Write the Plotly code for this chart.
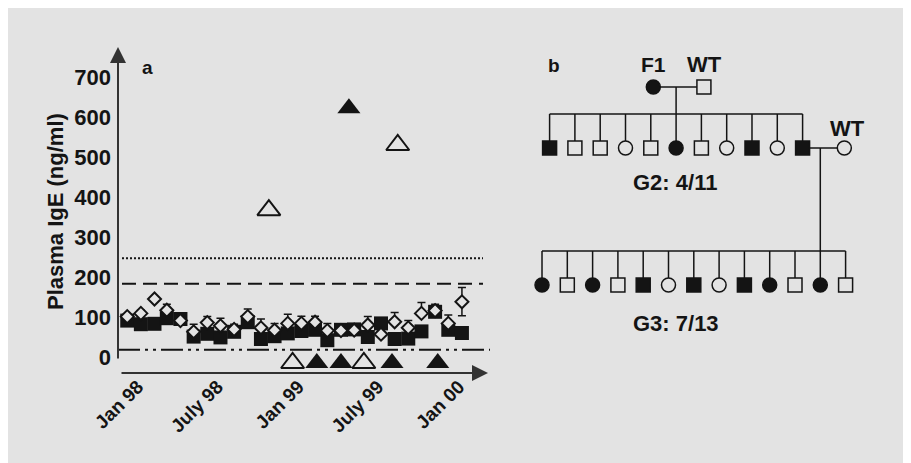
import plotly.graph_objects as go

FIG_W, FIG_H = 930, 480   # a bit larger than the window so the grey reaches the edges
OFF = 8  # page margin seen at the top-left of the reference
BG = '#e3e3e3'
INK = '#141414'
FONT = 'Liberation Sans, Arial, sans-serif'

# ---------------- Panel a data ----------------
months = ['1997-12-01', '1998-01-01', '1998-02-01', '1998-03-01', '1998-04-01',
          '1998-05-01', '1998-06-01', '1998-07-01', '1998-08-01', '1998-09-01',
          '1998-10-01', '1998-11-01', '1998-12-01', '1999-01-01', '1999-02-01',
          '1999-03-01', '1999-04-01', '1999-05-01', '1999-06-01', '1999-07-01',
          '1999-08-01', '1999-09-01', '1999-10-01', '1999-11-01', '1999-12-01',
          '2000-01-01']
square_vals = [91, 82, 83, 97, 95, 51, 58, 49, 63, 87, 45, 52, 59,
               65, 68, 42, 68, 69, 50, 84, 45, 46, 64, 113, 68, 60]
diamond_vals = [101, 109, 145, 117, 91, 63, 86, 78, 69, 101, 73, 67, 84,
                84, 87, 66, 66, 67, 80, 57, 88, 73, 109, 116, 84, 138]
diamond_err_plus = [0, 8, 0, 15, 0, 19, 15, 19, 13, 19, 22, 17, 23,
                    18, 15, 18, 0, 0, 21, 0, 23, 18, 27, 16, 21, 36]
diamond_err_minus = [0, 0, 0, 0, 0, 0, 0, 0, 0, 0, 0, 0, 0,
                     0, 0, 0, 0, 0, 0, 0, 0, 0, 0, 0, 0, 35]

open_tri_dates = ['1998-10-19', '1998-12-12', '1999-05-23', '1999-08-08']
open_tri_vals = [367, -15, -15, 530]
filled_tri_dates = ['1999-02-05', '1999-04-01', '1999-04-19', '1999-07-26', '1999-11-07']
filled_tri_vals = [-15, -15, 622, -15, -15]

thr_dotted = 247
thr_dashed = 183
thr_dashdot = 18

x_tickvals = ['1998-01-01', '1998-07-01', '1999-01-01', '1999-07-01', '2000-01-01']
x_ticktext = ['Jan 98', 'July 98', 'Jan 99', 'July 99', 'Jan 00']
y_tickvals = [0, 100, 200, 300, 400, 500, 600, 700]

# ---------------- Panel b data (pedigree) ----------------
g2_sex = ['M', 'M', 'M', 'F', 'M', 'F', 'M', 'F', 'M', 'F', 'M']
g2_aff = [1, 0, 0, 0, 0, 1, 0, 0, 1, 0, 1]
g3_sex = ['F', 'M', 'F', 'M', 'M', 'F', 'M', 'F', 'M', 'F', 'M', 'F', 'M']
g3_aff = [1, 0, 1, 0, 1, 0, 1, 0, 1, 1, 0, 1, 0]
g2_label = 'G2: 4/11'
g3_label = 'G3: 7/13'

# layout helpers (screen pixel -> paper fraction)
def PX(x):
    return (x - OFF) / FIG_W

def PY(y):
    return 1 - (y - OFF) / FIG_H

# pedigree geometry (slot units horizontally, pixel rows vertically)
g2_offset = 0.3
g2_slots = [g2_offset + i for i in range(len(g2_sex))]
g3_slots = [float(i) for i in range(len(g3_sex))]
f1_slot, wt1_slot = 4.4, 6.4
wt2_slot = 11.95
g2_descent_slot = g2_slots[5]
g3_descent_slot = g3_slots[11]
row_g1, row_sib2, row_g2, row_sib3, row_g3 = 87, 114, 148, 251, 285

fig = go.Figure()

# ---- panel a traces ----
fig.add_trace(go.Scatter(
    x=months, y=square_vals, mode='markers',
    marker=dict(symbol='square', size=14, color=INK, line=dict(width=0)),
    showlegend=False, hoverinfo='skip'))
fig.add_trace(go.Scatter(
    x=months, y=diamond_vals, mode='markers',
    marker=dict(symbol='diamond', size=10, color=BG, line=dict(width=2, color=INK)),
    error_y=dict(type='data', symmetric=False, array=diamond_err_plus,
                 arrayminus=diamond_err_minus, color=INK, thickness=1.5, width=4),
    showlegend=False, hoverinfo='skip'))
fig.add_trace(go.Scatter(
    x=open_tri_dates, y=open_tri_vals, mode='markers',
    marker=dict(symbol='triangle-up', size=20, color=BG, line=dict(width=2, color=INK)),
    showlegend=False, hoverinfo='skip'))
fig.add_trace(go.Scatter(
    x=filled_tri_dates, y=filled_tri_vals, mode='markers',
    marker=dict(symbol='triangle-up', size=20, color=INK, line=dict(width=0)),
    showlegend=False, hoverinfo='skip'))

# ---- panel b traces ----
lx, ly = [], []
def seg(x0, y0, x1, y1):
    lx.extend([x0, x1, None])
    ly.extend([y0, y1, None])

seg(f1_slot, row_g1, wt1_slot, row_g1)
seg(g2_descent_slot, row_g1, g2_descent_slot, row_sib2)
seg(g2_slots[0], row_sib2, g2_slots[-1], row_sib2)
for s in g2_slots:
    seg(s, row_sib2, s, row_g2)
seg(g2_slots[-1], row_g2, wt2_slot, row_g2)
seg(g3_descent_slot, row_g2, g3_descent_slot, row_sib3)
seg(g3_slots[0], row_sib3, g3_slots[-1], row_sib3)
for s in g3_slots:
    seg(s, row_sib3, s, row_g3)

fig.add_trace(go.Scatter(x=lx, y=ly, mode='lines', line=dict(color=INK, width=1.5),
                         xaxis='x2', yaxis='y2', showlegend=False, hoverinfo='skip'))

def members(xs, ys, sexes, affs):
    return go.Scatter(
        x=xs, y=ys, mode='markers',
        marker=dict(symbol=['square' if s == 'M' else 'circle' for s in sexes],
                    size=14,
                    color=[INK if a else BG for a in affs],
                    line=dict(width=1.5, color=INK)),
        xaxis='x2', yaxis='y2', showlegend=False, hoverinfo='skip')

fig.add_trace(members([f1_slot, wt1_slot], [row_g1, row_g1], ['F', 'M'], [1, 0]))
fig.add_trace(members(g2_slots + [wt2_slot], [row_g2] * (len(g2_slots) + 1),
                      g2_sex + ['F'], g2_aff + [0]))
fig.add_trace(members(g3_slots, [row_g3] * len(g3_slots), g3_sex, g3_aff))

# ---- shapes ----
shapes = [
    dict(type='line', xref='paper', yref='y', x0=PX(122), x1=PX(483),
         y0=thr_dotted, y1=thr_dotted, line=dict(color=INK, width=2, dash='2px,2px'), layer='below'),
    dict(type='line', xref='paper', yref='y', x0=PX(122), x1=PX(483),
         y0=thr_dashed, y1=thr_dashed, line=dict(color=INK, width=2, dash='14px,7px'), layer='below'),
    dict(type='line', xref='paper', yref='y', x0=PX(118), x1=PX(490),
         y0=thr_dashdot, y1=thr_dashdot,
         line=dict(color=INK, width=2, dash='22px,5px,3px,5px,3px,5px'), layer='below'),
]

def txt(x, y, s, size):
    return dict(x=PX(x), y=PY(y), xref='paper', yref='paper', text='<b>' + s + '</b>',
                showarrow=False, xanchor='center', yanchor='middle',
                font=dict(family=FONT, size=size, color=INK))

annotations = [
    # axis arrows
    dict(x=PX(118), y=PY(47), xref='paper', yref='paper', ax=0, ay=313, text='',
         showarrow=True, arrowhead=2, arrowsize=1.6, arrowwidth=2, arrowcolor='#333333'),
    dict(x=PX(488), y=PY(373), xref='paper', yref='paper', ax=-368, ay=0, text='',
         showarrow=True, arrowhead=2, arrowsize=1.6, arrowwidth=2, arrowcolor='#333333'),
    dict(x=PX(55), y=PY(212), xref='paper', yref='paper', text='<b>Plasma IgE (ng/ml)</b>',
         textangle=-90, showarrow=False, xanchor='center', yanchor='middle',
         font=dict(family=FONT, size=22, color=INK)),
    txt(147, 67, 'a', 19),
    txt(554, 65, 'b', 19),
    txt(653, 64, 'F1', 21),
    txt(704, 64, 'WT', 22),
    txt(847, 128, 'WT', 22),
    txt(675, 183, g2_label, 22),
    txt(676, 323, g3_label, 22),
]

fig.update_layout(
    width=FIG_W, height=FIG_H, margin=dict(l=0, r=0, t=0, b=0, autoexpand=False),
    paper_bgcolor=BG, plot_bgcolor='rgba(0,0,0,0)',
    font=dict(family=FONT, color=INK),
    shapes=shapes, annotations=annotations,
    xaxis=dict(domain=[PX(118), PX(487)], type='date',
               range=['1997-11-10', '2000-02-27'], automargin=False,
               tickvals=x_tickvals, ticktext=x_ticktext, tickangle=-45,
               ticklabelstandoff=-2, ticklabelshift=-3,
               tickfont=dict(family=FONT, size=19, color=INK, weight='bold'),
               showgrid=False, zeroline=False, showline=False, ticks=''),
    yaxis=dict(domain=[PY(373), PY(47)], range=[-40, 775], automargin=False,
               tickvals=y_tickvals, ticks='', ticklabelstandoff=6,
               tickfont=dict(family=FONT, size=22, color=INK, weight='bold'),
               showgrid=False, zeroline=False, showline=False),
    xaxis2=dict(domain=[PX(520), PX(880)], range=[-0.87, 13.36], anchor='y2',
                visible=False, automargin=False),
    yaxis2=dict(domain=[PY(380), PY(40)], range=[380, 40], anchor='x2',
                visible=False, automargin=False),
)

fig.write_html('out.html')
